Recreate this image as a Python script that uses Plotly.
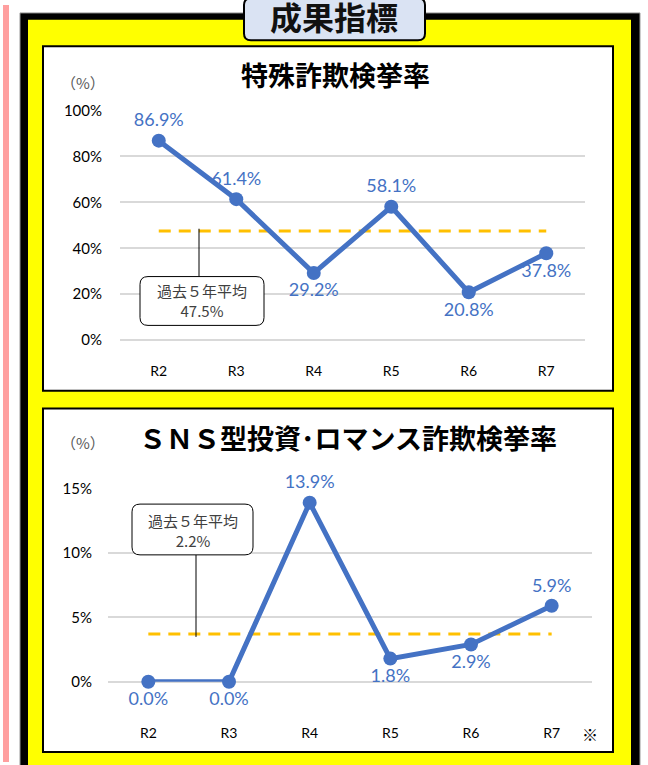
import plotly.graph_objects as go

# ---------------- data ----------------
categories = ["R2", "R3", "R4", "R5", "R6", "R7"]
fraud_rate = [86.9, 61.4, 29.2, 58.1, 20.8, 37.8]
fraud_avg = 47.5
fraud_avg_label = "47.5%"
fraud_ticks = [0, 20, 40, 60, 80, 100]

sns_rate = [0.0, 0.0, 13.9, 1.8, 2.9, 5.9]
sns_avg_line = 3.7
sns_avg_label = "2.2%"
sns_ticks = [0, 5, 10, 15]

title_main = "成果指標"
title1 = "特殊詐欺検挙率"
title2 = "ＳＮＳ型投資･ロマンス詐欺検挙率"

# ---------------- helpers ----------------
W, H = 648, 765
def PX(x): return x / W
def PY(y): return 1 - y / H

BLUE = "#4472c4"
ORANGE = "#ffc000"
JP = "Noto Sans CJK JP"
NUM = "Lato, Noto Sans CJK JP"

fig = go.Figure()

# chart 1
fig.add_trace(go.Scatter(x=categories, y=[fraud_avg] * len(categories), mode="lines",
                         line=dict(color=ORANGE, width=3, dash="12px,8px"),
                         xaxis="x", yaxis="y", hoverinfo="skip", showlegend=False))
fig.add_trace(go.Scatter(x=categories, y=fraud_rate, mode="lines+markers+text",
                         line=dict(color=BLUE, width=5), marker=dict(size=14, color=BLUE),
                         text=[f"{v:.1f}%" for v in fraud_rate],
                         textposition=["top center", "top center", "bottom center",
                                       "top center", "bottom center", "bottom center"],
                         textfont=dict(color=BLUE, size=18, family=NUM),
                         cliponaxis=False, xaxis="x", yaxis="y", showlegend=False))
# chart 2
fig.add_trace(go.Scatter(x=categories, y=[sns_avg_line] * len(categories), mode="lines",
                         line=dict(color=ORANGE, width=3, dash="12px,8px"),
                         xaxis="x2", yaxis="y2", hoverinfo="skip", showlegend=False))
fig.add_trace(go.Scatter(x=categories, y=sns_rate, mode="lines+markers+text",
                         line=dict(color=BLUE, width=5), marker=dict(size=14, color=BLUE),
                         text=[f"{v:.1f}%" for v in sns_rate],
                         textposition=["bottom center", "bottom center", "top center",
                                       "bottom center", "bottom center", "top center"],
                         textfont=dict(color=BLUE, size=18, family=NUM),
                         cliponaxis=False, xaxis="x2", yaxis="y2", showlegend=False))

def rrect(x0, y0, x1, y1, r):
    X0, X1 = PX(x0), PX(x1)
    Y0, Y1 = PY(y0), PY(y1)
    rx, ry = r / W, r / H
    return (f"M {X0+rx} {Y0} L {X1-rx} {Y0} Q {X1} {Y0} {X1} {Y0-ry} "
            f"L {X1} {Y1+ry} Q {X1} {Y1} {X1-rx} {Y1} L {X0+rx} {Y1} "
            f"Q {X0} {Y1} {X0} {Y1+ry} L {X0} {Y0-ry} Q {X0} {Y0} {X0+rx} {Y0} Z")

shapes = [
    dict(type="rect", xref="paper", yref="paper", x0=PX(3), x1=PX(9), y0=PY(-5), y1=PY(770),
         fillcolor="#ff9f9f", line=dict(width=0), layer="below"),
    dict(type="rect", xref="paper", yref="paper", x0=PX(20), x1=PX(640), y0=PY(3), y1=PY(800),
         fillcolor="#000000", line=dict(color="#999999", width=1), layer="below"),
    dict(type="rect", xref="paper", yref="paper", x0=PX(28), x1=PX(631), y0=PY(10), y1=PY(800),
         fillcolor="#ffff00", line=dict(width=0), layer="below"),
    dict(type="rect", xref="paper", yref="paper", x0=PX(43), x1=PX(613), y0=PY(37), y1=PY(390),
         fillcolor="#ffffff", line=dict(color="#000000", width=2), layer="below"),
    dict(type="rect", xref="paper", yref="paper", x0=PX(43), x1=PX(613), y0=PY(408), y1=PY(760),
         fillcolor="#ffffff", line=dict(color="#000000", width=2), layer="below"),
    dict(type="path", xref="paper", yref="paper", path=rrect(244, -12, 425, 31, 7),
         fillcolor="#dae3f3", line=dict(color="#000000", width=2), layer="above"),
    # callout 1
    dict(type="line", xref="paper", yref="paper", x0=PX(199), x1=PX(199), y0=PY(224), y1=PY(273),
         line=dict(color="#000000", width=1), layer="above"),
    dict(type="path", xref="paper", yref="paper", path=rrect(140, 273, 264, 323, 8),
         fillcolor="#ffffff", line=dict(color="#000000", width=1), layer="above"),
    # callout 2
    dict(type="line", xref="paper", yref="paper", x0=PX(196), x1=PX(196), y0=PY(558), y1=PY(642),
         line=dict(color="#000000", width=1), layer="above"),
    dict(type="path", xref="paper", yref="paper", path=rrect(132, 506, 253, 558, 8),
         fillcolor="#ffffff", line=dict(color="#000000", width=1), layer="above"),
]

def ann(text, x, y, size, color, family=JP):
    return dict(text=text, x=PX(x), y=PY(y), xref="paper", yref="paper",
                xanchor="center", yanchor="middle", showarrow=False,
                font=dict(family=family, size=size, color=color))

annotations = [
    ann(f"<b>{title_main}</b>", 334, 6, 32, "#111111"),
    ann(f"<b>{title1}</b>", 335, 66, 27, "#000000"),
    ann(f"<b>{title2}</b>", 348, 438, 27, "#000000"),
    ann("（%）", 83, 74, 15, "#595959"),
    ann("（%）", 83, 443, 15, "#595959"),
    ann(f"過去５年平均<br>{fraud_avg_label}", 202, 298, 15, "#404040"),
    ann(f"過去５年平均<br>{sns_avg_label}", 193, 533, 15, "#404040"),
    ann("※", 590, 741, 16, "#000000"),
]

GRID = "#d9d9d9"
fig.update_layout(
    width=W, height=H, margin=dict(l=0, r=0, t=0, b=0),
    paper_bgcolor="#ffffff", plot_bgcolor="rgba(0,0,0,0)",
    shapes=shapes, annotations=annotations, showlegend=False,
    xaxis=dict(domain=[PX(120), PX(585)], anchor="y", type="category", range=[-0.5, 5.5],
               showgrid=False, showline=False, zeroline=False, ticks="", ticklabelstandoff=21,
               tickfont=dict(family=NUM, size=14, color="#000000")),
    yaxis=dict(domain=[PY(338), PY(103)], anchor="x", range=[0, 100], tickmode="array",
               tickvals=fraud_ticks, ticktext=[f"{v}%" for v in fraud_ticks],
               showgrid=True, gridcolor=GRID, gridwidth=1.5,
               zeroline=True, zerolinecolor=GRID, zerolinewidth=1.5, showline=False,
               ticklabelstandoff=17, tickfont=dict(family=NUM, size=15, color="#000000")),
    xaxis2=dict(domain=[PX(108), PX(592)], anchor="y2", type="category", range=[-0.5, 5.5],
                showgrid=False, showline=False, zeroline=False, ticks="", ticklabelstandoff=41,
                tickfont=dict(family=NUM, size=14, color="#000000")),
    yaxis2=dict(domain=[PY(688), PY(490)], anchor="x2", range=[0, 15], tickmode="array",
                tickvals=sns_ticks, ticktext=[f"{v}%" for v in sns_ticks],
                showgrid=True, gridcolor=GRID, gridwidth=1.5,
                zeroline=True, zerolinecolor=GRID, zerolinewidth=1.5, showline=False,
                ticklabelstandoff=15, tickfont=dict(family=NUM, size=15, color="#000000")),
)

fig.write_html("out.html", config={"displayModeBar": False},
               post_script="document.body.style.margin='0';document.body.style.overflow='hidden';")
